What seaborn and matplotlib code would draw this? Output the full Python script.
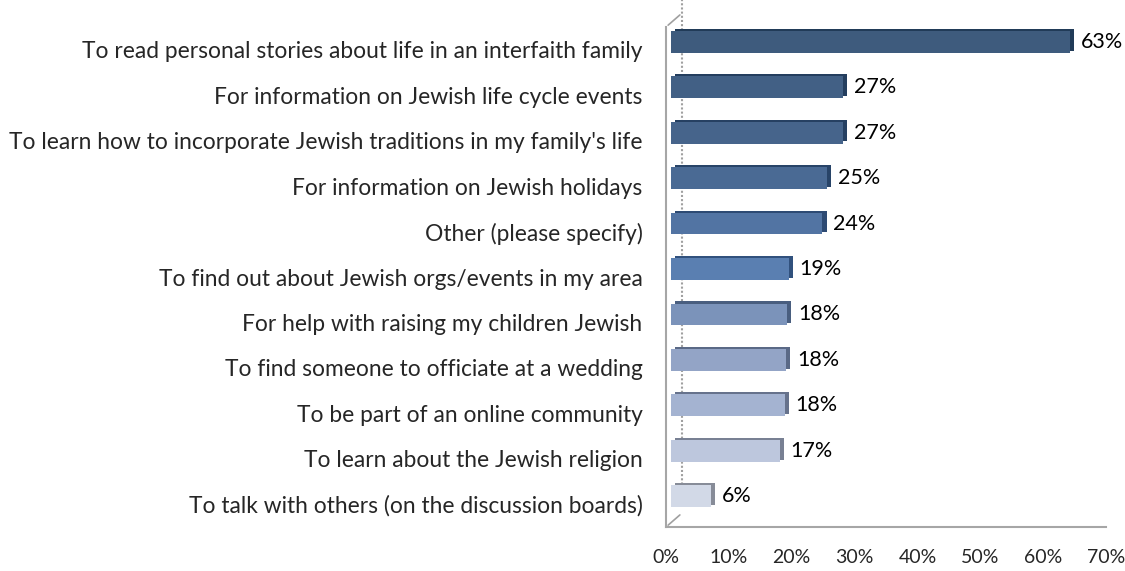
import numpy as np
import matplotlib
matplotlib.use("Agg")
import matplotlib.pyplot as plt
import matplotlib.transforms as mtransforms
import matplotlib.patheffects as pe
from matplotlib.colors import to_rgb
import seaborn as sns

# -----------------------
# Data
# -----------------------
reasons = [
    "To read personal stories about life in an interfaith family",
    "For information on Jewish life cycle events",
    "To learn how to incorporate Jewish traditions in my family's life",
    "For information on Jewish holidays",
    "Other (please specify)",
    "To find out about Jewish orgs/events in my area",
    "For help with raising my children Jewish",
    "To find someone to officiate at a wedding",
    "To be part of an online community",
    "To learn about the Jewish religion",
    "To talk with others (on the discussion boards)",
]
percent = [63.4, 27.4, 27.3, 24.8, 24.1, 18.7, 18.5, 18.3, 18.1, 17.3, 6.4]
bar_colors = ["#335A88", "#375F90", "#3A6397", "#3E68A0", "#4572B1", "#4B7DC0",
              "#7090C4", "#8AA2CE", "#9DB0D8", "#B8C5E2", "#CFD8EA"]
x_ticks = [0, 10, 20, 30, 40, 50, 60, 70]

# -----------------------
# Style
# -----------------------
sns.set_style("white")
plt.rcParams['font.family'] = ['Lato', 'DejaVu Sans']
axis_gray = "#A6A6A6"

fig = plt.figure(figsize=(11.25, 5.71), dpi=100)
ax = fig.add_axes([666 / 1125, 1 - 527 / 571, 440 / 1125, 500 / 571])

sns.barplot(x=percent, y=reasons, hue=reasons, palette=bar_colors, legend=False,
            orient="h", width=0.48, ax=ax, zorder=3)

# shift bars into the "3D" depth and give them a darker side face
shift = mtransforms.ScaledTranslation(5 / 100, 8 / 100, fig.dpi_scale_trans)
for patch, c in zip(ax.patches, bar_colors):
    patch.set_transform(ax.transData + shift)
    patch.set_linewidth(0)
    dark = tuple(v * 0.65 for v in to_rgb(c))
    patch.set_path_effects([pe.SimplePatchShadow(offset=(3, 1.5), shadow_rgbFace=dark, alpha=1),
                            pe.Normal()])

# value labels
for i, v in enumerate(percent):
    ax.text(v, i, f"{v:.0f}%", transform=ax.transData +
            mtransforms.ScaledTranslation(16 / 100, 8 / 100, fig.dpi_scale_trans),
            va="center", ha="left", fontsize=15.5, color="black")

# back wall of the 3D plot
wall = mtransforms.ScaledTranslation(16 / 100, 14 / 100, fig.dpi_scale_trans)
ax.plot([0, 0], [10.15, -0.85], color="#A0A0A0", lw=1.5, ls=(0, (1, 1)),
        transform=ax.transData + wall, zorder=1, clip_on=False)
for yy in (0, 1):
    ax.annotate("", xy=(0, yy), xycoords="axes fraction",
                xytext=(11.5, 10), textcoords="offset points",
                arrowprops=dict(arrowstyle="-", color="#A0A0A0", lw=1.2))

ax.set_xlim(0, 70)
ax.set_ylim(10.5, -0.5)
ax.set_xticks(x_ticks)
ax.set_xticklabels([f"{t}%" for t in x_ticks])
ax.set_yticks(np.arange(-0.5, 11, 1), minor=True)
ax.tick_params(axis="y", which="major", length=0, pad=17, labelsize=16.4)
ax.tick_params(axis="y", which="minor", length=7, width=1.5, color=axis_gray, direction="out")
ax.tick_params(axis="x", length=8, width=1.5, color=axis_gray, direction="inout",
               pad=12, labelsize=14)
ax.set_xlabel("")
ax.set_ylabel("")

for side in ("top", "right"):
    ax.spines[side].set_visible(False)
for side in ("left", "bottom"):
    ax.spines[side].set_color(axis_gray)
    ax.spines[side].set_linewidth(1.5)

fig.savefig("out.png", dpi=100)
